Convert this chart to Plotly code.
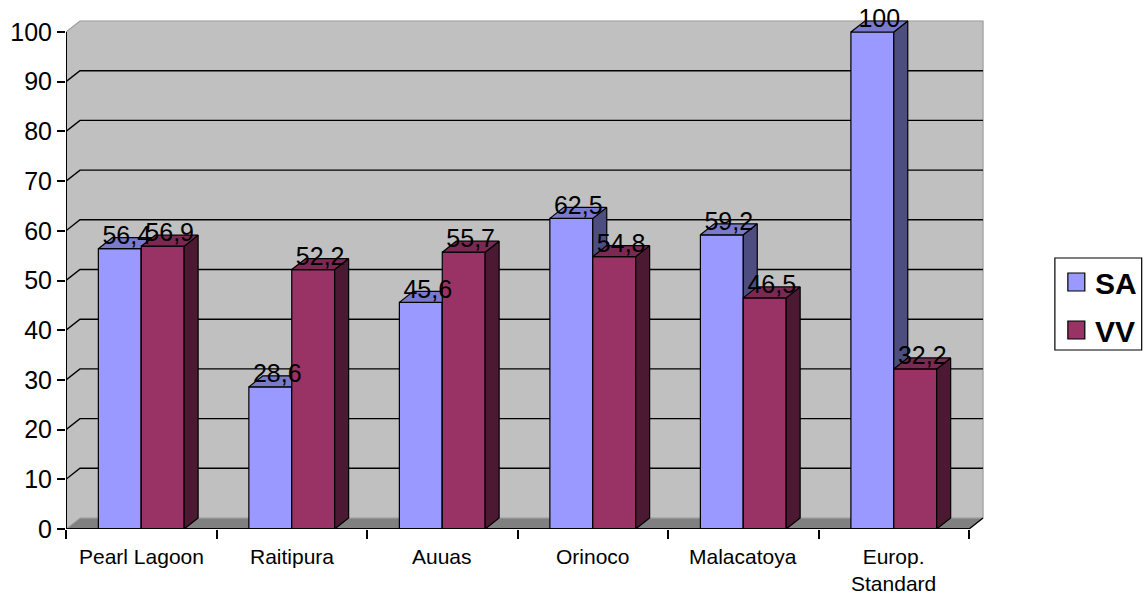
import plotly.graph_objects as go

# ---- data ----
categories = ["Pearl Lagoon", "Raitipura", "Auuas", "Orinoco", "Malacatoya", "Europ.<br>Standard"]
series_names = ["SA", "VV"]
sa_values = [56.4, 28.6, 45.6, 62.5, 59.2, 100]
vv_values = [56.9, 52.2, 55.7, 54.8, 46.5, 32.2]
y_ticks = [0, 10, 20, 30, 40, 50, 60, 70, 80, 90, 100]

# ---- geometry / style ----
W, H = 1146, 595
M_L, M_R, M_T, M_B = 64, 146, 10, 66
PW, PH = W - M_L - M_R, H - M_T - M_B
X_UNIT = 150.83          # pixels per category slot
Y_UNIT = 4.97            # pixels per value unit
X_MAX = PW / X_UNIT
Y_MAX = PH / Y_UNIT
DX = 14 / X_UNIT         # depth offset (x)
DY = 11 / Y_UNIT         # depth offset (y)
BAR_W = 0.285
N = len(categories)
TOP = max(y_ticks)

FONT = "Liberation Sans, Arial, sans-serif"
FACE = {
    "SA": ("#9999FF", "#7A7ACC", "#4D4D80"),   # front, top, side
    "VV": ("#993366", "#7A2952", "#4C1933"),
}

fig = go.Figure()


def poly(xs, ys, fill, line_color="black", line_w=1.2):
    fig.add_trace(go.Scatter(
        x=xs + [xs[0]], y=ys + [ys[0]], mode="lines", fill="toself",
        fillcolor=fill, line=dict(color=line_color, width=line_w),
        hoverinfo="skip", showlegend=False))


def polyline(xs, ys, color, width):
    fig.add_trace(go.Scatter(
        x=xs, y=ys, mode="lines", line=dict(color=color, width=width),
        hoverinfo="skip", showlegend=False))


# walls and floor
poly([0, 0, DX, DX], [0, TOP, TOP + DY, DY], "#C0C0C0", "#C0C0C0", 0.5)
poly([DX, DX, N + DX, N + DX], [DY, TOP + DY, TOP + DY, DY], "#C0C0C0", "#C0C0C0", 0.5)
poly([0, DX, N + DX, N], [0, DY, DY, 0], "#808080", "#808080", 0.5)
polyline([0, DX, N + DX, N + DX], [TOP, TOP + DY, TOP + DY, DY], "#A0A0A0", 1.2)
polyline([0, DX, N + DX], [0, DY, DY], "#A8A8A8", 1)

# gridlines on side and back walls
gx, gy = [], []
for v in y_ticks[1:-1]:
    gx += [0, DX, N + DX, None]
    gy += [v, v + DY, v + DY, None]
polyline(gx, gy, "black", 1.4)

# front-right floor edge
polyline([N, N + DX], [0, DY], "black", 1.4)

# 3-D bars
label_x, label_y, label_t = [], [], []
for i in range(N):
    for k, (name, vals) in enumerate(zip(series_names, [sa_values, vv_values])):
        v = vals[i]
        x0 = i + 0.5 - BAR_W + k * BAR_W
        x1 = x0 + BAR_W
        front, top, side = FACE[name]
        poly([x0, x0, x1, x1], [0, v, v, 0], front)
        poly([x1, x1, x1 + DX, x1 + DX], [0, v, v + DY, DY], side)
        poly([x0, x0 + DX, x1 + DX, x1], [v, v + DY, v + DY, v], top)
        label_x.append((x0 + x1) / 2 + DX / 2)
        label_y.append(v + DY)
        label_t.append(f"{v:g}".replace(".", ","))

# axis lines
polyline([0, 0], [0, TOP], "black", 2)
polyline([0, N], [0, 0], "black", 2)

# value labels
fig.add_trace(go.Scatter(
    x=label_x, y=label_y, text=label_t, mode="text",
    textposition="middle center", cliponaxis=False,
    textfont=dict(family=FONT, size=25, color="black"),
    hoverinfo="skip", showlegend=False))

# category labels
for i, c in enumerate(categories):
    fig.add_annotation(
        x=i + 0.5, y=0, xref="x", yref="y", text=c, showarrow=False,
        yanchor="top", yshift=-14,
        font=dict(family=FONT, size=21, color="black"))


# legend drawn in pixel space
def px(x):
    return (x - M_L) / PW


def py(y):
    return 1 - (y - M_T) / PH


fig.add_shape(type="rect", xref="paper", yref="paper",
              x0=px(1055), x1=px(1142), y0=py(258), y1=py(350),
              line=dict(color="black", width=1.2), fillcolor="white")
for j, name in enumerate(series_names):
    top_px = 273 + j * 48
    fig.add_shape(type="rect", xref="paper", yref="paper",
                  x0=px(1068), x1=px(1085), y0=py(top_px), y1=py(top_px + 18),
                  line=dict(color="black", width=1.2), fillcolor=FACE[name][0])
    fig.add_annotation(
        x=px(1093), y=py(top_px + 10), xref="paper", yref="paper",
        text=f"<b>{name}</b>", showarrow=False, xanchor="left", yanchor="middle",
        font=dict(family=FONT, size=30, color="black"))

fig.update_layout(
    width=W, height=H,
    margin=dict(l=M_L, r=M_R, t=M_T, b=M_B, pad=0),
    paper_bgcolor="white", plot_bgcolor="white",
    showlegend=False, hovermode=False,
    font=dict(family=FONT, color="black"),
    xaxis=dict(range=[0, X_MAX], tickvals=list(range(N + 1)), showticklabels=False,
               ticks="outside", ticklen=9, tickwidth=1.5, tickcolor="black",
               showgrid=False, zeroline=False, showline=False, fixedrange=True),
    yaxis=dict(range=[0, Y_MAX], tickvals=y_ticks, ticks="outside", ticklen=8,
               tickwidth=1.5, tickcolor="black", showgrid=False, zeroline=False,
               showline=False, fixedrange=True,
               tickfont=dict(family=FONT, size=25, color="black")),
)

fig.write_html("out.html")
